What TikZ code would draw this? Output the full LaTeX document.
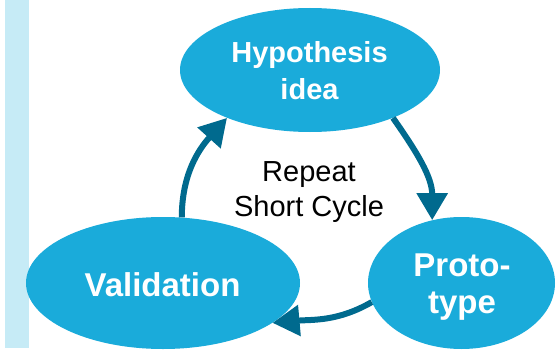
\documentclass[tikz,border=0pt]{standalone}
\usepackage{fontspec}
\setmainfont{Liberation Sans}
\usetikzlibrary{arrows.meta,shapes.geometric}
\definecolor{bubblefill}{HTML}{1AABDA}
\definecolor{loopline}{HTML}{006A8E}
\definecolor{sideband}{HTML}{C6EBF6}
\begin{document}
\begin{tikzpicture}[x=1pt,y=1pt,
  bubble/.style={ellipse, fill=bubblefill, draw=none, inner sep=0pt},
  caption/.style={text=white, font=\bfseries, align=center, inner sep=0pt},
  cycleArrow/.style={line width=6pt, draw=loopline,
    -{Triangle[length=27pt,width=30pt]}}]
\useasboundingbox (0,0) rectangle (557,349);

% light band along the left edge
\fill[sideband] (5,1) rectangle (29,349);

% the three stages
\node[bubble, minimum width=260pt, minimum height=124pt] (hyp) at (310,279) {};
\node[bubble, minimum width=274pt, minimum height=132pt] (val) at (163,66) {};
\node[bubble, minimum width=187pt, minimum height=132pt] (proto) at (461.5,66) {};

\node[caption, font=\bfseries\fontsize{29}{37}\selectfont] (hyptext) at (309.5,278) {Hypothesis\\idea};
\node[caption, font=\bfseries\fontsize{33}{37}\selectfont] (valtext) at (162.5,64.5) {Validation};
\node[caption, font=\bfseries\fontsize{33}{37}\selectfont] (prototext) at (462,62) {Proto-\\type};

% centre caption
\node[align=center, inner sep=0pt, font=\fontsize{29}{35}\selectfont] (repeat) at (309,157) {Repeat\\Short Cycle};

% cycle connectors
\draw[cycleArrow] (hyp.-30) to[out=-55, in=90] (proto.115);
\draw[cycleArrow] (proto.192) to[out=210, in=5] (val.-20);
\draw[cycleArrow] (val.74) to[out=90, in=228] (hyp.210);
\end{tikzpicture}
\end{document}
